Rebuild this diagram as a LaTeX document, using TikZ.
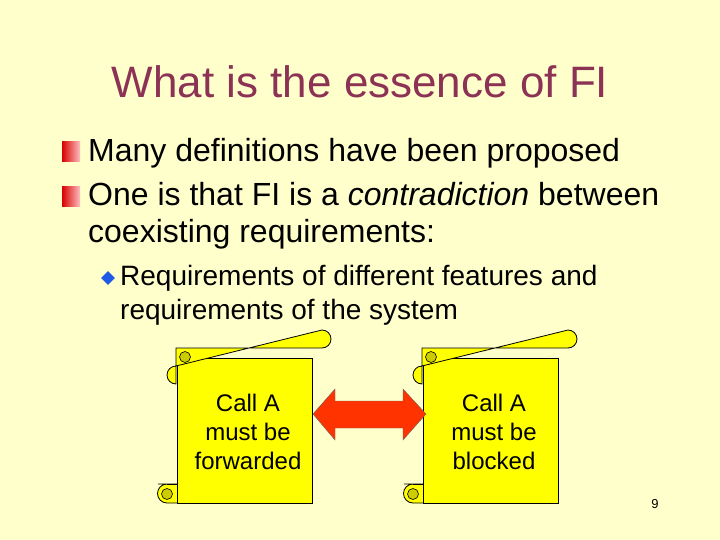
\documentclass[tikz,border=0pt]{standalone}
\usepackage{fontspec}
\setmainfont{Liberation Sans}
\usetikzlibrary{shapes.geometric}
\definecolor{bg}{RGB}{255,255,204}
\definecolor{titlec}{RGB}{140,50,85}
\definecolor{scrollc}{RGB}{255,255,0}
\definecolor{curlc}{RGB}{204,204,0}
\definecolor{arrowc}{RGB}{255,51,0}
\definecolor{bluec}{RGB}{30,90,230}
\tikzset{x=1pt,y=-1pt,
  txt/.style={anchor=base west,inner sep=0pt,text=black,font=\fontsize{32}{36}\selectfont},
  subtxt/.style={anchor=base west,inner sep=0pt,text=black,font=\fontsize{28}{32}\selectfont},
  scrolltxt/.style={align=center,inner sep=0pt,text=black,font=\fontsize{24}{29}\selectfont},
  scrollline/.style={draw=black,line width=0.8pt,fill=scrollc}}
\newcommand{\myscroll}[2]{%
  \begin{scope}[shift={(#1,#2)}]
  \path[scrollline] (-18,136) -- (10,136) -- (10,155) -- (-9,155) arc[start angle=90,end angle=270,radius=9.5] -- cycle;
  \path[scrollline] (1,10) rectangle (136,155);
  \path[scrollline] (1,136) -- (-9,136);
  \path[draw=black,fill=curlc,line width=0.6pt] (-9,146) circle[radius=5.5];
  \path[scrollline] (0,0) -- (146,0) arc[start angle=90,end angle=-90,radius=9] -- (0,18) arc[start angle=-90,end angle=-270,radius=9] -- cycle;
  \path[draw=black,fill=curlc,line width=0.6pt] (9,9) circle[radius=5.5];
  \end{scope}}
\begin{document}
\begin{tikzpicture}
\useasboundingbox (0,0) rectangle (720,540);
\fill[bg] (0,0) rectangle (720,540);
\node[font=\fontsize{44}{48}\selectfont,text=titlec] (title) at (360,82) {What is the essence of FI};
\shade[left color=red!85!black,right color=red!25] (62,142) rectangle (80,162);
\node[txt] (b1) at (88,162) {Many definitions have been proposed};
\shade[left color=red!85!black,right color=red!25] (62,187) rectangle (80,207);
\node[txt] (b2) at (88,206) {One is that FI is a \textit{contradiction} between};
\node[txt] (b2b) at (88,243) {coexisting requirements:};
\node[diamond,fill=bluec,inner sep=0pt,minimum size=14pt] (d1) at (108,278) {};
\node[subtxt] (s1) at (120,285) {Requirements of different features and};
\node[subtxt] (s1b) at (120,319) {requirements of the system};
\myscroll{176}{348}
\myscroll{422}{348}
\node[scrolltxt] (ta) at (248,432) {Call A\\must be\\forwarded};
\node[scrolltxt] (tb) at (494,432) {Call A\\must be\\blocked};
\path[draw=black!60,line width=0.4pt,fill=arrowc] (313,414) -- (335,389) -- (335,401) -- (403,401) -- (403,389) -- (426,414) -- (403,440) -- (403,428) -- (335,428) -- (335,440) -- cycle;
\node[text=black,font=\fontsize{13}{14}\selectfont] (pg) at (655,504) {9};
\end{tikzpicture}
\end{document}
